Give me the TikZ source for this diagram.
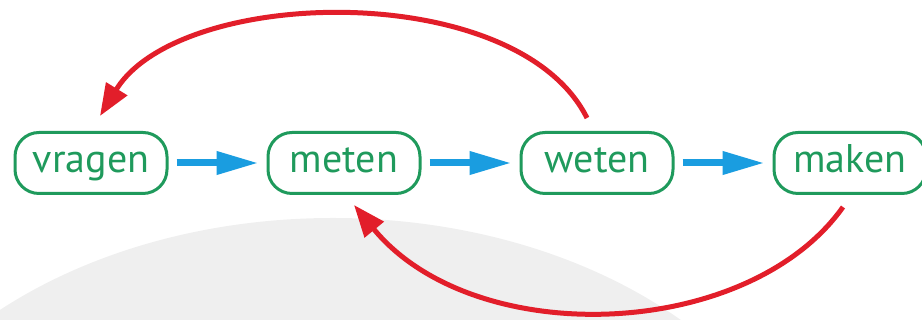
\documentclass[tikz,border=0pt]{standalone}
\usepackage{fontspec}
\setmainfont{PT Sans}
\usetikzlibrary{arrows.meta, positioning}

\definecolor{boxgreen}{RGB}{31,154,92}
\definecolor{stepblue}{RGB}{26,157,224}
\definecolor{loopred}{RGB}{226,30,42}
\definecolor{backgray}{RGB}{239,239,239}

\begin{document}
\begin{tikzpicture}[x=1pt, y=1pt,
    phase/.style={draw=boxgreen, line width=3pt, rounded corners=24pt,
	minimum width=152pt, minimum height=61pt, inner sep=0pt,
	text height=20pt, text depth=0pt,
	text=boxgreen, font=\fontsize{40}{44}\selectfont},
    next/.style={stepblue, line width=7pt, shorten <=8pt, shorten >=8pt,
	-{Triangle[length=42pt, width=22pt]}},
    back/.style={loopred, line width=5pt,
	-{Triangle[length=32pt, width=24pt]}},
    node distance=98pt]
    \useasboundingbox (0, 0) rectangle (922, 320);
    \begin{scope}
	\clip (0, 0) rectangle (922, 320);
	\fill[backgray] (333, -243) ellipse (490 and 345);
    \end{scope}

    \node[phase] (vragen) at (91, 157) {vragen};
    \node[phase, right=of vragen] (meten) {meten};
    \node[phase, right=of meten] (weten) {weten};
    \node[phase, right=of weten] (maken) {maken};

    \draw[next] (vragen) -- (meten);
    \draw[next] (meten) -- (weten);
    \draw[next] (weten) -- (maken);

    \draw[back] ([xshift=-10pt, yshift=13pt] weten.north)
	.. controls +(-70, 140) and +(80, 130) ..
	([xshift=9pt, yshift=15pt] vragen.north);
    \draw[back] ([xshift=-7pt, yshift=-12pt] maken.south)
	.. controls +(-95, -134) and +(120, -146) ..
	([xshift=10pt, yshift=-10pt] meten.south);
\end{tikzpicture}
\end{document}
